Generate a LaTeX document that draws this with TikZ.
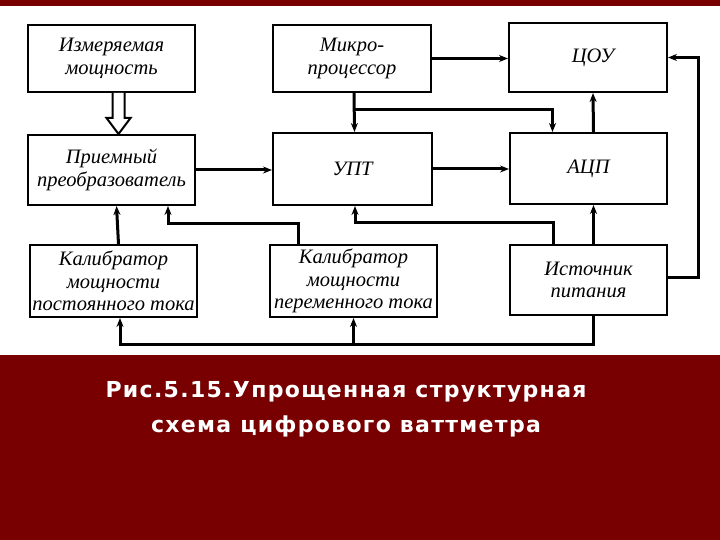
\documentclass[tikz,border=0pt]{standalone}
\usepackage{fontspec}
\setmainfont{Liberation Serif}
\newfontfamily\capfont[LetterSpace=6]{DejaVu Sans}
\usetikzlibrary{arrows.meta,calc}
\definecolor{band}{RGB}{120,0,0}
\begin{document}
\begin{tikzpicture}[x=1pt,y=-1pt,
  blk/.style={draw,line width=2pt,rectangle,inner sep=0pt,align=center,
    font=\fontsize{20.5}{22.5}\selectfont\itshape},
  conn/.style={line width=3pt},
  arr/.style={conn,-{Stealth[length=9pt,width=7pt]}},
  captext/.style={text=white,font=\capfont\bfseries\fontsize{22}{30}\selectfont}]
\useasboundingbox (0,0) rectangle (720,540);
\fill[band] (0,0) rectangle (720,6);
\fill[band] (0,355) rectangle (720,540);
% blocks
\node[blk,minimum width=167pt,minimum height=67pt] (m) at (111.5,58.5) {Измеряемая\\мощность};
\node[blk,minimum width=167pt,minimum height=70pt] (pr) at (111.5,170) {Приемный\\преобразователь};
\node[blk,minimum width=158pt,minimum height=67pt] (mp) at (352,58.5) {Микро-\\процессор};
\node[blk,minimum width=158pt,minimum height=69pt] (cou) at (588,57.5) {\hspace*{10pt}ЦОУ};
\node[blk,minimum width=159pt,minimum height=72pt] (upt) at (352.5,169) {УПТ};
\node[blk,minimum width=157pt,minimum height=71pt] (adc) at (588.5,168.5) {АЦП};
\node[blk,minimum width=167pt,minimum height=72pt] (cdc) at (113.5,281) {Калибратор\\мощности\\постоянного тока};
\node[blk,minimum width=167pt,minimum height=72pt] (cac) at (353.5,281) {Калибратор\\мощности\\переменного тока};
\node[blk,minimum width=157pt,minimum height=70pt] (ist) at (588.5,280) {Источник\\питания};
% hollow arrow
\coordinate (ha) at ($(m.south)+(7,0)$);
\draw[line width=2pt,fill=white] ($(ha)+(-6,0)$) -- ++(0,25) -- ++(-6,0)
  -- ($(pr.north)+(7,0)$) -- ($(ha)+(12,25)$) -- ++(-6,0) -- ($(ha)+(6,0)$);
% connectors
\draw[arr] (mp.east) -- (mp.east -| cou.west);
\draw[arr] ([xshift=2]mp.south) -- ([xshift=2]upt.north);
\coordinate (j1) at ($(mp.south)+(2,17)$);
\draw[arr] (j1) -| ([xshift=-36]adc.north);
\draw[arr] (pr.east) -- (pr.east -| upt.west);
\draw[arr] (upt.east) -- (upt.east -| adc.west);
\draw[arr] ([xshift=5]adc.north) -- ([xshift=5]cou.south);
\draw[arr] ([xshift=5]ist.north) -- ([xshift=5]adc.south);
\draw[arr] ([yshift=3]ist.east) -- ++(30,0) |- (cou.east);
\coordinate (b1) at ($(ist.south)+(5,28)$);
\draw[arr] ([xshift=5]ist.south) -- (b1) -| ([xshift=6.5]cdc.south);
\draw[arr] (b1 -| cac.south) -- (cac.south);
\draw[arr] ([xshift=5]cdc.north) -- ([xshift=5]pr.south);
\draw[arr] ([xshift=-55]cac.north) -- ++(0,-20) -| ([xshift=56.5]pr.south);
\draw[arr] ([xshift=-35.5]ist.north) -- ++(0,-21) -| ([xshift=2.5]upt.south);
% caption
\node[captext] (c1) at (346,392) {Рис.5.15.Упрощенная структурная};
\node[captext] (c2) at (346,426) {схема цифрового ваттметра};
\end{tikzpicture}
\end{document}
